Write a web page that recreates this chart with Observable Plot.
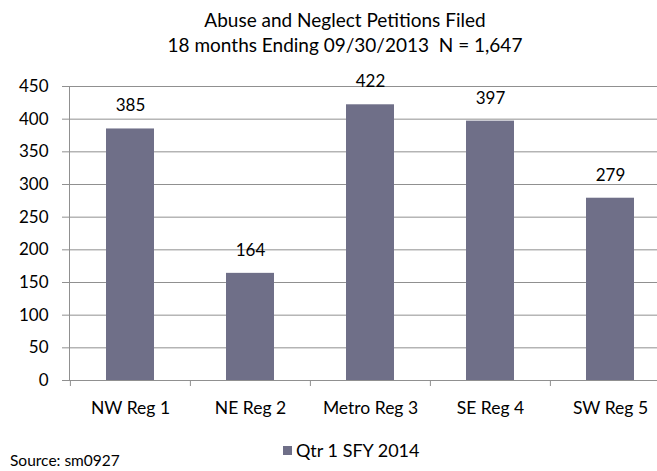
<!DOCTYPE html>
<html><head><meta charset="utf-8">
<script src="https://cdn.jsdelivr.net/npm/d3@7"></script>
<script src="https://cdn.jsdelivr.net/npm/@observablehq/plot@0.6"></script>
<style>
body{margin:0;background:#fff;overflow:hidden;}
#wrap{position:relative;width:657px;height:471px;overflow:hidden;font-family:Lato,"Open Sans",sans-serif;color:#000;}
#title{position:absolute;left:0;width:690px;top:7px;text-align:center;font-size:19px;line-height:25px;}
#legend{position:absolute;left:283px;top:439px;font-size:18px;display:flex;align-items:center;}
#legend span.sw{display:inline-block;width:9px;height:9px;background:#6f6f88;margin-right:4px;}
#source{position:absolute;left:10px;top:451px;font-size:15.5px;}
#chart{position:absolute;left:0;top:0;}
</style></head>
<body>
<div id="wrap">
<div id="chart"></div>
<div id="title">Abuse and Neglect Petitions Filed<br>18 months Ending 09/30/2013&nbsp; N = 1,647</div>
<div id="legend"><span class="sw"></span>Qtr 1 SFY 2014</div>
<div id="source">Source: sm0927</div>
</div>
<script>
const regions = ["NW Reg 1","NE Reg 2","Metro Reg 3","SE Reg 4","SW Reg 5"];
const petitions = [385,164,422,397,279];
const yTicks = [0,50,100,150,200,250,300,350,400,450];
const data = regions.map((r,i)=>({region:r, value:petitions[i]}));
const W = 657, mL = 69, mR = -13;
const band = (W - mR - mL) / regions.length;
const color = "#6f6f88";
const plot = Plot.plot({
  width: W, height: 471,
  marginLeft: mL, marginRight: mR, marginTop: 86, marginBottom: 91,
  style: {fontFamily: 'Lato,"Open Sans",sans-serif', fontSize: "17px", overflow: "visible"},
  x: {domain: regions, padding: 0, label: null},
  y: {domain: [0,450], label: null},
  marks: [
    Plot.gridY(yTicks, {stroke: "#909090", strokeOpacity: 1}),
    Plot.axisY(yTicks, {tickSize: 7, tickPadding: 14, stroke: "#909090", fontSize: 17, label: null}),
    Plot.barY(data, {x: "region", y: "value", fill: color, insetLeft: 36, insetRight: 36}),
    Plot.ruleY([0], {stroke: "#909090"}),
    Plot.frame({anchor: "left", stroke: "#909090"}),
    Plot.axisX({tickSize: 6, dx: -band/2, stroke: "#909090", text: null, label: null}),
    Plot.axisX({tickSize: 0, tickPadding: 21, fontSize: 17.5, label: null}),
    Plot.text(data, {x: "region", y: "value", text: d => String(d.value), dy: -23, fontSize: 17})
  ]
});
document.getElementById("chart").appendChild(plot);
</script>
</body></html>
